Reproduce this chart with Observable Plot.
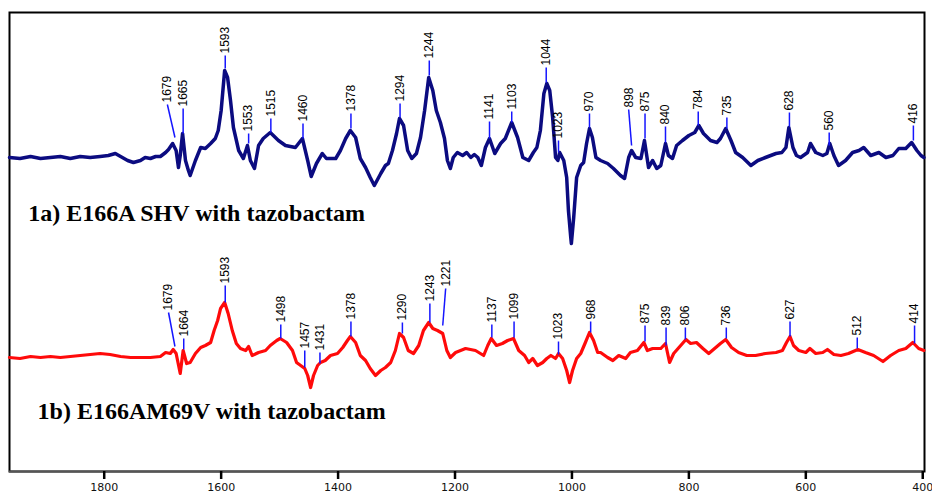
<!DOCTYPE html>
<html><head><meta charset="utf-8">
<script src="https://cdn.jsdelivr.net/npm/d3@7"></script>
<script src="https://cdn.jsdelivr.net/npm/@observablehq/plot@0.6"></script>
<style>body{margin:0;background:#fff}</style>
</head><body><div id="chart"></div>
<script>
// x axis ticks (wavenumber, cm-1)
const xTicks = [1800, 1600, 1400, 1200, 1000, 800, 600, 400];

// Spectrum 1a (E166A SHV with tazobactam): [wavenumber, intensity a.u.]
const spectrumA = [[1962,0],[1944,-1],[1926,1],[1909,-1],[1892,0],[1875,1],[1858,-1],[1841,1],[1824,0],[1807,1],[1793,2],[1781,4],[1772,1],[1760,-3],[1750,-5],[1738,-3],[1730,0],[1721,-1],[1712,1],[1704,1],[1695,5],[1690,8],[1683,14],[1677,7],[1673,-10],[1670,2],[1666,24],[1661,-3],[1656,-13],[1653,-18],[1644,-3],[1635,10],[1627,9],[1618,14],[1610,19],[1605,27],[1600,47],[1594,87],[1589,80],[1584,57],[1579,30],[1570,7],[1562,-1],[1555,12],[1550,-3],[1543,-11],[1536,12],[1528,19],[1516,25],[1502,17],[1490,12],[1473,10],[1461,19],[1452,-3],[1446,-19],[1437,-6],[1427,4],[1420,-1],[1404,-1],[1396,7],[1387,19],[1379,27],[1370,20],[1362,-1],[1353,-10],[1345,-20],[1338,-28],[1327,-16],[1319,-8],[1314,-6],[1307,7],[1300,24],[1295,39],[1288,32],[1281,7],[1274,-1],[1266,4],[1259,20],[1252,47],[1245,80],[1238,67],[1232,47],[1225,35],[1218,19],[1213,-3],[1208,-11],[1203,0],[1196,5],[1187,2],[1180,5],[1173,0],[1167,3],[1161,0],[1155,-8],[1148,10],[1141,19],[1132,4],[1122,14],[1114,19],[1103,35],[1093,20],[1084,0],[1074,-3],[1066,5],[1060,10],[1054,27],[1048,64],[1043,74],[1038,67],[1033,40],[1028,0],[1024,-3],[1021,5],[1014,-3],[1009,-20],[1006,-53],[1002,-80],[1001,-86],[997,-60],[992,-20],[985,-8],[980,-5],[975,14],[970,29],[965,20],[959,0],[951,-3],[939,-6],[929,-11],[917,-18],[910,-21],[903,0],[898,7],[891,0],[882,-1],[876,17],[869,-10],[862,-3],[855,-11],[848,-8],[840,14],[835,2],[828,-1],[821,12],[811,17],[800,22],[790,25],[783,32],[775,24],[763,17],[752,15],[746,19],[737,29],[728,17],[720,5],[708,0],[694,-8],[682,-3],[669,0],[651,4],[641,5],[634,10],[629,30],[622,10],[616,2],[609,0],[597,5],[592,14],[583,5],[571,2],[564,4],[559,14],[552,2],[544,-8],[532,-3],[520,5],[509,7],[501,10],[489,2],[475,5],[463,0],[451,2],[441,9],[429,9],[419,15],[410,7],[403,2],[398,0]];

// Spectrum 1b (E166AM69V with tazobactam)
const spectrumB = [[1962,0],[1944,-1],[1926,1],[1909,0],[1892,1],[1875,0],[1858,1],[1841,2],[1824,3],[1807,4],[1790,3],[1772,1],[1755,0],[1738,0],[1721,0],[1704,1],[1695,5],[1687,4],[1682,8],[1677,4],[1670,-16],[1665,7],[1659,-6],[1653,-5],[1644,4],[1635,10],[1627,12],[1618,15],[1612,27],[1606,37],[1601,49],[1594,55],[1588,44],[1581,27],[1574,14],[1567,9],[1558,7],[1553,11],[1547,2],[1536,5],[1524,7],[1516,12],[1505,17],[1499,19],[1488,15],[1478,7],[1471,-5],[1464,-8],[1457,-11],[1452,-18],[1447,-30],[1442,-18],[1435,-8],[1430,-5],[1422,-3],[1413,2],[1401,4],[1392,10],[1384,17],[1379,21],[1370,15],[1362,2],[1353,-3],[1345,-11],[1336,-18],[1327,-13],[1319,-10],[1310,-5],[1302,7],[1295,24],[1288,20],[1280,7],[1271,4],[1262,12],[1254,27],[1245,35],[1238,29],[1230,27],[1221,24],[1214,7],[1208,0],[1199,5],[1182,9],[1165,7],[1151,2],[1144,12],[1138,19],[1129,12],[1119,14],[1110,17],[1100,19],[1091,7],[1081,2],[1074,-5],[1067,-1],[1059,-8],[1050,-5],[1043,-1],[1036,2],[1028,-1],[1023,4],[1016,-1],[1009,-13],[1004,-25],[999,-13],[992,-1],[985,4],[977,15],[970,25],[963,17],[956,5],[951,5],[939,0],[930,-3],[920,2],[908,-1],[900,5],[888,7],[877,15],[871,7],[862,9],[848,9],[840,14],[833,-5],[826,4],[814,12],[805,18],[797,14],[787,15],[776,9],[766,4],[756,9],[746,14],[737,18],[727,10],[715,5],[701,2],[686,2],[669,4],[651,5],[640,7],[633,15],[627,21],[621,12],[612,7],[600,5],[593,9],[583,4],[571,5],[563,8],[552,3],[540,2],[527,4],[511,8],[498,5],[484,2],[468,-4],[455,2],[441,7],[429,9],[417,15],[407,9],[398,7]];

// Peak annotations: [wavenumber, leader foot intensity, leader head intensity, head shift (cm-1)]
const peaksA = [[1679,20,53,13],[1665,24,49,0],[1593,89,102,0],[1553,14,24,0],[1515,25,39,0],[1460,19,34,0],[1378,29,44,0],[1294,40,54,0],[1244,82,97,0],[1141,19,36,0],[1103,35,46,0],[1044,75,90,0],[1023,5,17,0],[970,30,44,0],[898,12,48,5],[875,19,44,0],[840,15,31,0],[784,32,46,0],[735,29,40,0],[628,31,45,0],[560,12,25,0],[416,17,32,0]];
const peaksB = [[1679,11,45,11],[1664,8,19,0],[1593,55,72,0],[1498,19,33,0],[1457,-10,7,0],[1431,-6,5,0],[1378,21,36,0],[1290,24,35,0],[1243,35,54,0],[1221,32,69,-5],[1137,20,33,0],[1099,20,36,0],[1023,3,16,0],[968,25,36,0],[875,16,32,0],[839,12,30,0],[806,18,30,0],[736,19,30,0],[627,21,36,0],[512,9,20,0],[414,14,32,0]];

const titleA = "1a) E166A SHV with tazobactam";
const titleB = "1b) E166AM69V with tazobactam";

// vertical stacking offsets of the two spectra
const offA = 314, offB = 114;

const lineA = spectrumA.map(([w, v]) => ({w, v: v + offA}));
const lineB = spectrumB.map(([w, v]) => ({w, v: v + offB}));
const ann = (peaks, off) => peaks.map(([w, a, b, s]) => ({w, w2: w + s, y1: a + off, y2: b + off, y3: b + off + 2, t: String(w)}));
const annA = ann(peaksA, offA), annB = ann(peaksB, offB);
const annAll = annA.concat(annB);

const chart = Plot.plot({
  width: 932, height: 495,
  marginLeft: 9, marginRight: 8, marginTop: 12, marginBottom: 24,
  style: {fontFamily: "DejaVu Sans", fontSize: "11px", background: "#fff", color: "#111"},
  x: {domain: [1962, 397], axis: null},
  y: {domain: [0, 459], axis: null},
  marks: [
    Plot.frame({stroke: "#000", strokeWidth: 2}),
    Plot.ruleY([0], {stroke: "#555", strokeWidth: 2}),
    Plot.axisX({ticks: xTicks, tickFormat: d => String(d), tickSize: 8, tickPadding: 4, strokeWidth: 2.5, stroke: "#000", label: null, fontSize: 11}),
    Plot.line(lineA, {x: "w", y: "v", stroke: "#0b0b80", strokeWidth: 3.5, strokeLinejoin: "round"}),
    Plot.line(lineB, {x: "w", y: "v", stroke: "#ff0a0a", strokeWidth: 3.2, strokeLinejoin: "round"}),
    Plot.link(annAll, {x1: "w", y1: "y1", x2: "w2", y2: "y2", stroke: "#1515ff", strokeWidth: 1.5}),
    Plot.text(annAll, {x: "w2", y: "y3", text: "t", rotate: -90, textAnchor: "start", lineAnchor: "middle", fontSize: 12, fontFamily: "Liberation Sans", fill: "#000"}),
    Plot.text([{t: titleA, x: 1930, y: offA - 63}], {x: "x", y: "y", text: "t", textAnchor: "start", lineAnchor: "bottom", fontSize: 24, fontWeight: "bold", fontFamily: "Liberation Serif", fill: "#000"}),
    Plot.text([{t: titleB, x: 1914, y: offB - 61}], {x: "x", y: "y", text: "t", textAnchor: "start", lineAnchor: "bottom", fontSize: 24, fontWeight: "bold", fontFamily: "Liberation Serif", fill: "#000"})
  ]
});
document.getElementById("chart").appendChild(chart);
</script>
</body></html>
